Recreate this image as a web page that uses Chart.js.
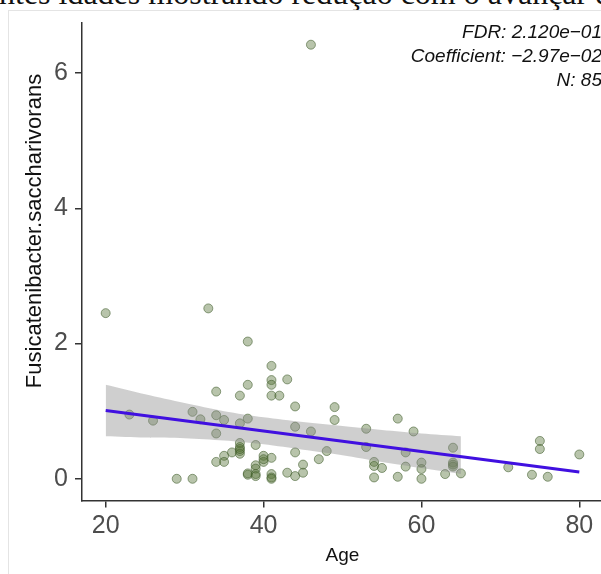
<!DOCTYPE html>
<html>
<head>
<meta charset="utf-8">
<script src="https://cdn.jsdelivr.net/npm/chart.js@4.4.1/dist/chart.umd.min.js"></script>
<style>
    html, body { margin: 0; padding: 0; background: #fff; overflow: hidden; }
    body { width: 601px; height: 574px; position: relative; }
    #caption {
        position: absolute; left: -1px; top: -23px;
        font-family: "Liberation Serif", "DejaVu Serif", serif;
        font-size: 32px; line-height: 32px; white-space: nowrap; color: #111;
    }
    #frame {
        position: absolute; left: 8px; top: 10px; width: 700px; height: 700px;
        border-left: 1px solid #e4e4e4; border-top: 1px solid #e4e4e4;
    }
    #plot { position: absolute; left: 0; top: 0; }
</style>
</head>
<body>
<div id="caption">ntes idades mostrando redução com o avançar da idade</div>
<div id="frame"></div>
<canvas id="plot" width="640" height="574"></canvas>

<script>
/* ---------- data ---------- */
const ages = [
    20, 33, 38, 46, 23, 26, 31, 32, 34, 34,
    35, 34, 37, 38, 38, 37, 37, 37, 37, 37,
    36, 35, 34, 35, 29, 31, 38, 41, 41, 41,
    43, 41, 42, 44, 49, 49, 44, 46, 39, 40,
    41, 40, 39, 39, 39, 41, 41, 43, 44, 45,
    45, 44, 47, 48, 57, 53, 53, 54, 54, 55,
    54, 57, 59, 58, 64, 64, 64, 58, 60, 60,
    60, 63, 65, 71, 75, 75, 74, 76, 80,
    37, 41, 38, 64, 39, 40
];
const abundance = [
    2.45, 2.52, 2.03, 6.42, 0.95, 0.86, 0.99, 0.88, 1.29, 0.94,
    0.87, 0.67, 1.23, 1.39, 0.89, 0.82, 0.53, 0.47, 0.41, 0.37,
    0.39, 0.34, 0.25, 0.25, 0.00, 0.00, 0.06, 1.67, 1.46, 1.39,
    1.47, 1.23, 1.23, 1.07, 1.06, 0.87, 0.77, 0.70, 0.50, 0.34,
    0.31, 0.25, 0.20, 0.15, 0.07, 0.07, 0.02, 0.09, 0.04, 0.09,
    0.21, 0.39, 0.29, 0.41, 0.89, 0.74, 0.47, 0.25, 0.19, 0.16,
    0.02, 0.03, 0.70, 0.39, 0.46, 0.24, 0.18, 0.18, 0.24, 0.145,
    0.00, 0.07, 0.08, 0.17, 0.56, 0.44, 0.06, 0.03, 0.36,
    0.44, 0.00, 0.08, 0.21, 0.04, 0.29
];

// fitted line
const fitX = [20, 80];
const fitY = [1.01, 0.10];

// grey band (only drawn up to 65 in the original)
const bandX = [20, 25, 30, 35, 40, 45, 50, 55, 60, 65];
const bandUpper = [1.39, 1.25, 1.12, 1.00, 0.91, 0.84, 0.78, 0.72, 0.67, 0.63];
const bandLower = [0.63, 0.61, 0.60, 0.565, 0.51, 0.43, 0.35, 0.25, 0.16, 0.07];

const xTicks = [20, 40, 60, 80];
const yTicks = [0, 2, 4, 6];

const yTitle = "Fusicatenibacter.saccharivorans";
const xTitle = "Age";
const notes = ["FDR: 2.120e\u221201", "Coefficient: \u22122.97e\u221202", "N: 85"];


/* ---------- helpers ---------- */
function toPoints(xs, ys) {
    return xs.map((x, i) => ({ x: x, y: ys[i] }));
}

const sans = '"Liberation Sans", Arial, Helvetica, sans-serif';

// annotation text + rotated y title
const textPlugin = {
    id: "texts",
    afterDraw(chart) {
        const ctx = chart.ctx;
        const area = chart.chartArea;

        ctx.save();
        ctx.fillStyle = "#111";
        ctx.font = "italic 19px " + sans;
        ctx.textAlign = "right";
        ctx.textBaseline = "alphabetic";
        notes.forEach((t, i) => {
            ctx.fillText(t, area.right - 1, 38 + i * 24);
        });

        ctx.translate(41, 231);
        ctx.rotate(-Math.PI / 2);
        ctx.textAlign = "center";
        ctx.font = "22px " + sans;
        ctx.fillText(yTitle, 0, 0);
        ctx.restore();
    }
};


/* ---------- chart ---------- */
const ctx = document.getElementById("plot").getContext("2d");

new Chart(ctx, {
    type: "scatter",
    data: {
        datasets: [
            {
                type: "line",
                data: toPoints(fitX, fitY),
                borderColor: "#4010e0",
                borderWidth: 3,
                pointRadius: 0,
                fill: false,
                order: 1
            },
            {
                type: "line",
                data: toPoints(bandX, bandUpper),
                borderColor: "transparent",
                borderWidth: 0,
                pointRadius: 0,
                tension: 0.3,
                fill: "+1",
                backgroundColor: "rgba(140,140,140,0.42)",
                order: 2
            },
            {
                type: "line",
                data: toPoints(bandX, bandLower),
                borderColor: "transparent",
                borderWidth: 0,
                pointRadius: 0,
                tension: 0.3,
                fill: false,
                order: 2
            },
            {
                data: toPoints(ages, abundance),
                backgroundColor: "rgba(85,115,55,0.42)",
                borderColor: "rgba(60,90,40,0.55)",
                borderWidth: 1,
                pointRadius: 4.5,
                order: 3
            }
        ]
    },
    options: {
        responsive: false,
        animation: false,
        layout: { padding: { left: 0, top: 23, right: 37, bottom: 0 } },
        plugins: {
            legend: { display: false },
            tooltip: { enabled: false }
        },
        scales: {
            x: {
                type: "linear",
                min: 17,
                max: 83,
                afterBuildTicks: s => { s.ticks = xTicks.map(v => ({ value: v })); },
                afterFit: s => { s.height = 73.5; },
                ticks: {
                    font: { family: sans, size: 25 },
                    color: "#4d4d4d",
                    padding: 4
                },
                grid: {
                    drawOnChartArea: false,
                    drawTicks: true,
                    tickLength: 7,
                    color: "#333",
                    lineWidth: 1.5
                },
                border: { display: true, color: "#333", width: 1.5 },
                title: {
                    display: true,
                    text: xTitle,
                    font: { family: sans, size: 19 },
                    color: "#111",
                    padding: { top: 0, bottom: 7 }
                }
            },
            y: {
                type: "linear",
                min: -0.321,
                max: 6.741,
                afterBuildTicks: s => { s.ticks = yTicks.map(v => ({ value: v })); },
                afterFit: s => { s.width = 82; },
                ticks: {
                    font: { family: sans, size: 25 },
                    color: "#4d4d4d",
                    padding: 7
                },
                grid: {
                    drawOnChartArea: false,
                    drawTicks: true,
                    tickLength: 7,
                    color: "#333",
                    lineWidth: 1.5
                },
                border: { display: true, color: "#333", width: 1.5 }
            }
        }
    },
    plugins: [textPlugin]
});
</script>
</body>
</html>
